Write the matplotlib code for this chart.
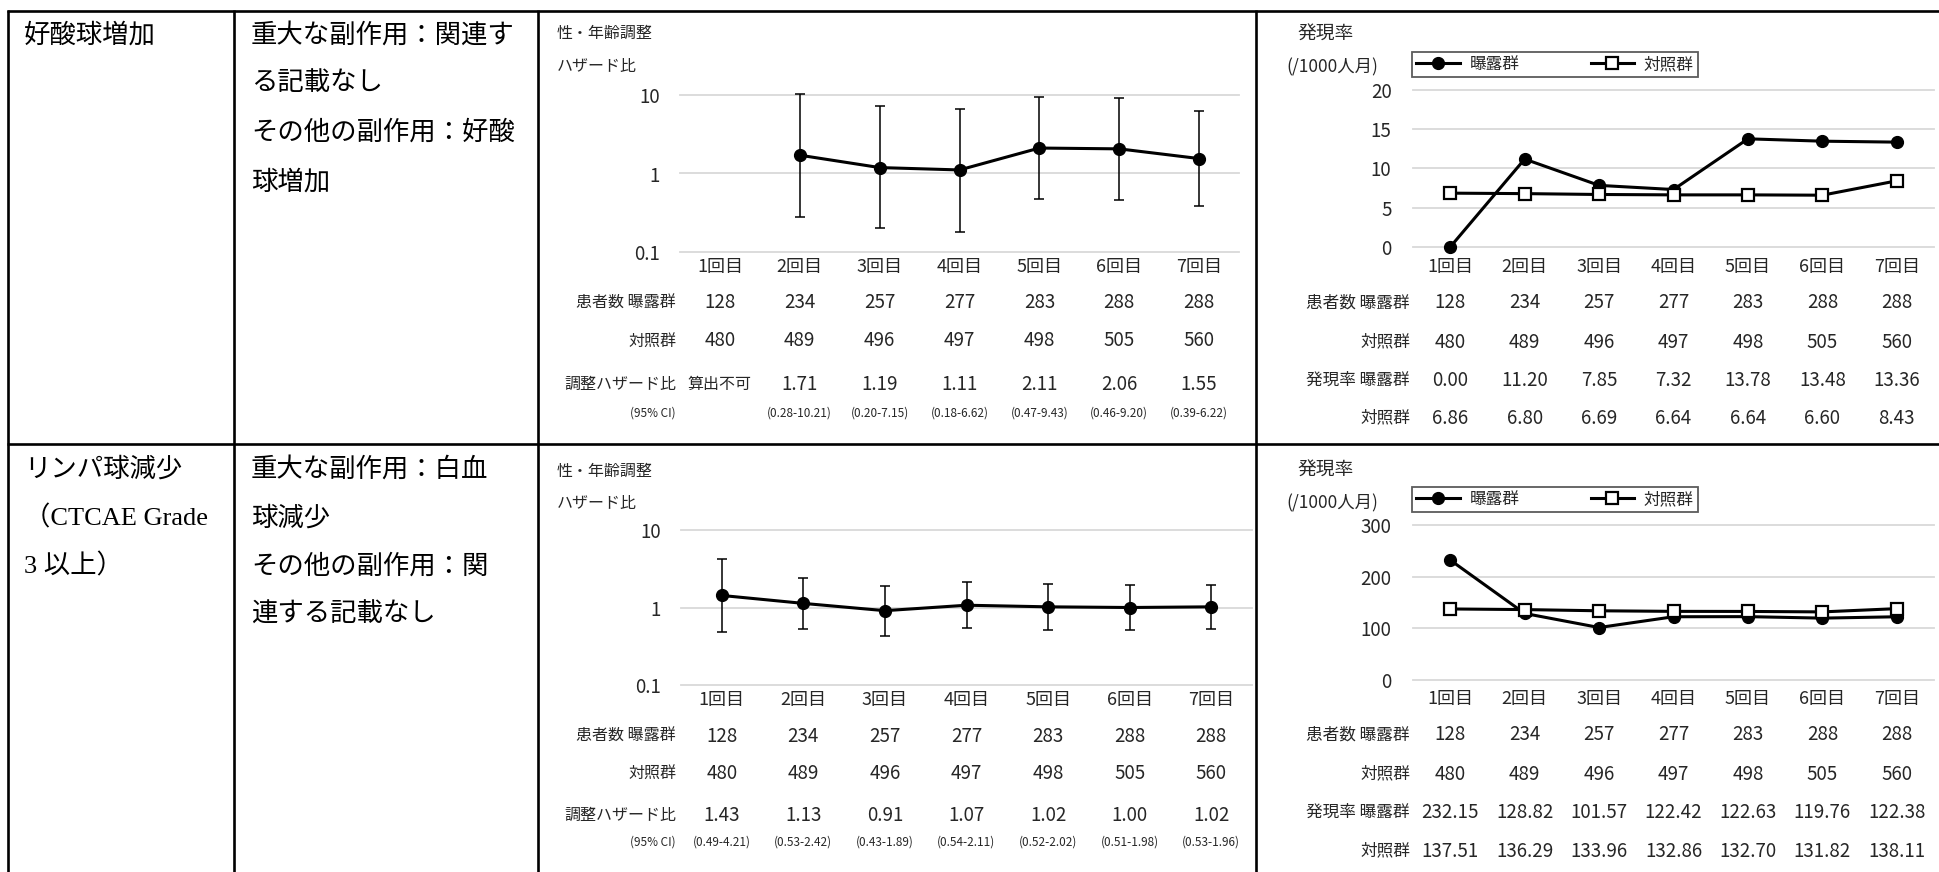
import numpy as np
import matplotlib
matplotlib.use('Agg')
import matplotlib.pyplot as plt
from matplotlib.lines import Line2D
from matplotlib.transforms import blended_transform_factory

plt.rcParams['font.family'] = ['Noto Sans CJK JP', 'DejaVu Sans']

W, H, DPI = 1939, 872, 100

# ---------------- data ----------------
categories = ['1回目', '2回目', '3回目', '4回目', '5回目', '6回目', '7回目']
n_exposed = [128, 234, 257, 277, 283, 288, 288]
n_control = [480, 489, 496, 497, 498, 505, 560]

eos_hr = [np.nan, 1.71, 1.19, 1.11, 2.11, 2.06, 1.55]
eos_hr_lo = [np.nan, 0.28, 0.20, 0.18, 0.47, 0.46, 0.39]
eos_hr_hi = [np.nan, 10.21, 7.15, 6.62, 9.43, 9.20, 6.22]
eos_rate_exp = [0.00, 11.20, 7.85, 7.32, 13.78, 13.48, 13.36]
eos_rate_ctl = [6.86, 6.80, 6.69, 6.64, 6.64, 6.60, 8.43]

lym_hr = [1.43, 1.13, 0.91, 1.07, 1.02, 1.00, 1.02]
lym_hr_lo = [0.49, 0.53, 0.43, 0.54, 0.52, 0.51, 0.53]
lym_hr_hi = [4.21, 2.42, 1.89, 2.11, 2.02, 1.98, 1.96]
lym_rate_exp = [232.15, 128.82, 101.57, 122.42, 122.63, 119.76, 122.38]
lym_rate_ctl = [137.51, 136.29, 133.96, 132.86, 132.70, 131.82, 138.11]

hr_ticks = [0.1, 1, 10]
hr_ticklabels = ['0.1', '1', '10']
eos_rate_ticks = [0, 5, 10, 15, 20]
lym_rate_ticks = [0, 100, 200, 300]

row1_col1 = ['好酸球増加']
row1_col2 = ['重大な副作用：関連す', 'る記載なし', 'その他の副作用：好酸', '球増加']
row2_col1 = ['リンパ球減少', '（CTCAE Grade', '3 以上）']
row2_col2 = ['重大な副作用：白血', '球減少', 'その他の副作用：関', '連する記載なし']

legend_labels = ['曝露群', '対照群']

# ---------------- helpers ----------------
fig = plt.figure(figsize=(W / DPI, H / DPI), dpi=DPI)
fig.patch.set_facecolor('white')
TC = '#262626'
SERIF = ['Liberation Serif', 'Noto Sans CJK JP']


def fx(x):
    return x / W


def fy(y):
    return 1 - y / H


def add_ax(l, r, t, b):
    return fig.add_axes([fx(l), fy(b), fx(r) - fx(l), fy(t) - fy(b)])


def line(x0, y0, x1, y1, lw=1.9):
    fig.add_artist(Line2D([fx(x0), fx(x1)], [fy(y0), fy(y1)], color='black',
                          lw=lw, transform=fig.transFigure, solid_capstyle='butt'))


# table borders
line(7, 11, W, 11)
line(7, 444, W, 444)
for xv in [8, 234, 538, 1256]:
    line(xv, 10, xv, H)

# left text columns
line_ys_1 = [35, 83, 132, 182]
line_ys_2 = [469, 518, 566, 615]
for txt, y in zip(row1_col1, line_ys_1):
    fig.text(fx(24), fy(y), txt, fontsize=19, family=SERIF, ha='left', va='center')
for txt, y in zip(row1_col2, line_ys_1):
    fig.text(fx(251), fy(y), txt, fontsize=19, family=SERIF, ha='left', va='center')
for txt, y in zip(row2_col1, line_ys_2):
    fig.text(fx(24), fy(y), txt, fontsize=19, family=SERIF, ha='left', va='center')
for txt, y in zip(row2_col2, line_ys_2):
    fig.text(fx(251), fy(y), txt, fontsize=19, family=SERIF, ha='left', va='center')


def style(ax, ticks, labels, pad_y, pad_x):
    for s in ax.spines.values():
        s.set_visible(False)
    ax.set_xlim(-0.5, 6.5)
    ax.set_xticks(range(len(categories)))
    ax.set_xticklabels(categories, fontsize=13, color=TC)
    ax.set_yticks(ticks)
    ax.set_yticklabels(labels, fontsize=13.5, color=TC)
    ax.minorticks_off()
    ax.tick_params(length=0)
    ax.tick_params(axis='y', pad=pad_y)
    ax.tick_params(axis='x', pad=pad_x)
    for t in ax.get_xticklabels():
        t.set_verticalalignment('center')
    ax.grid(axis='y', color='#d9d9d9', lw=1.3)
    ax.grid(axis='x', visible=False)
    ax.set_axisbelow(True)
    for gl in ax.get_ygridlines():
        gl.set_clip_on(False)
    ax.patch.set_visible(False)


def table(ax, label_right, rows):
    tr = blended_transform_factory(ax.transData, fig.transFigure)
    for label, lfs, y, values, vfs in rows:
        fig.text(fx(label_right), fy(y), label, ha='right', va='center', fontsize=lfs, color=TC)
        for i, v in enumerate(values):
            fs = vfs if not any('\u3000' <= c <= '\u9fff' for c in v) else 11.5
            ax.text(i, fy(y), v, transform=tr, ha='center', va='center', fontsize=fs, color=TC)


def hr_chart(l, r, t, b, hr, lo, hi, title_y, rows_y):
    ax = add_ax(l, r, t, b)
    ax.set_yscale('log')
    ax.set_ylim(0.1, 10)
    style(ax, hr_ticks, hr_ticklabels, pad_y=14.5, pad_x=(rows_y[0] - 36 - b) * 0.72)
    x = np.arange(len(categories))
    hr_a = np.array(hr); lo_a = np.array(lo); hi_a = np.array(hi)
    ax.errorbar(x, hr_a, yerr=[hr_a - lo_a, hi_a - hr_a], fmt='-o', color='black',
                ms=8.5, lw=2.2, elinewidth=1.1, capsize=3.3, capthick=1.1, clip_on=False, zorder=3)
    fig.text(fx(557), fy(title_y[0]), '性・年齢調整', fontsize=11.5, color=TC, ha='left', va='center')
    fig.text(fx(557), fy(title_y[1]), 'ハザード比', fontsize=11.5, color=TC, ha='left', va='center')
    hr_txt = ['算出不可' if np.isnan(v) else f'{v:.2f}' for v in hr]
    ci_txt = ['' if np.isnan(a) else f'({a:.2f}-{c:.2f})' for a, c in zip(lo, hi)]
    table(ax, 676, [
        ('患者数 曝露群', 11.5, rows_y[0], [str(v) for v in n_exposed], 13.5),
        ('対照群', 11.5, rows_y[1], [str(v) for v in n_control], 13.5),
        ('調整ハザード比', 11.5, rows_y[2], hr_txt, 13.5),
        ('(95% CI)', 8.5, rows_y[3], ci_txt, 8.5),
    ])
    return ax


def rate_chart(l, r, t, b, exp, ctl, ticks, title_y, legend_y, rows_y):
    ax = add_ax(l, r, t, b)
    ax.set_ylim(ticks[0], ticks[-1])
    style(ax, ticks, [str(v) for v in ticks], pad_y=15.5, pad_x=(rows_y[0] - 36 - b) * 0.72)
    x = np.arange(len(categories))
    ax.plot(x, exp, '-o', color='black', ms=8.5, lw=2.2, label=legend_labels[0],
            clip_on=False, zorder=3)
    ax.plot(x, ctl, '-s', color='black', mfc='white', mec='black', mew=1.6, ms=8.5,
            lw=2.2, label=legend_labels[1], clip_on=False, zorder=4)
    fig.text(fx(1297), fy(title_y[0]), '発現率', fontsize=13.5, color=TC, ha='left', va='center')
    fig.text(fx(1286), fy(title_y[1]), '(/1000人月)', fontsize=12.5, color=TC, ha='left', va='center')
    x0, x1 = 1412, 1698
    leg = ax.legend(loc='center',
                    bbox_to_anchor=(fx(x0), fy(legend_y[1]), fx(x1) - fx(x0), fy(legend_y[0]) - fy(legend_y[1])),
                    bbox_transform=fig.transFigure, mode='expand', ncol=2, frameon=True,
                    fancybox=False, edgecolor='#333333', fontsize=12, handlelength=2.6,
                    borderpad=0.25, columnspacing=1.2, handletextpad=0.6, borderaxespad=0)
    leg.get_frame().set_linewidth(1.3)
    for t in leg.get_texts():
        t.set_color(TC)
    table(ax, 1410, [
        ('患者数 曝露群', 12, rows_y[0], [str(v) for v in n_exposed], 13.5),
        ('対照群', 12, rows_y[1], [str(v) for v in n_control], 13.5),
        ('発現率 曝露群', 12, rows_y[2], [f'{v:.2f}' for v in exp], 13.5),
        ('対照群', 12, rows_y[3], [f'{v:.2f}' for v in ctl], 13.5),
    ])
    return ax


# top row charts
hr_chart(680, 1239, 95, 252, eos_hr, eos_hr_lo, eos_hr_hi, (33, 67), (303, 341, 384, 413))
rate_chart(1413, 1934, 90, 247, eos_rate_exp, eos_rate_ctl, eos_rate_ticks,
           (33, 67), (51, 78), (303, 342, 380, 418))

# bottom row charts
hr_chart(681, 1252, 530, 685, lym_hr, lym_hr_lo, lym_hr_hi, (471, 503), (736, 773, 815, 842))
rate_chart(1413, 1934, 525, 680, lym_rate_exp, lym_rate_ctl, lym_rate_ticks,
           (469, 503), (486, 513), (735, 774, 812, 851))

fig.savefig('out.png', dpi=DPI, facecolor='white')
